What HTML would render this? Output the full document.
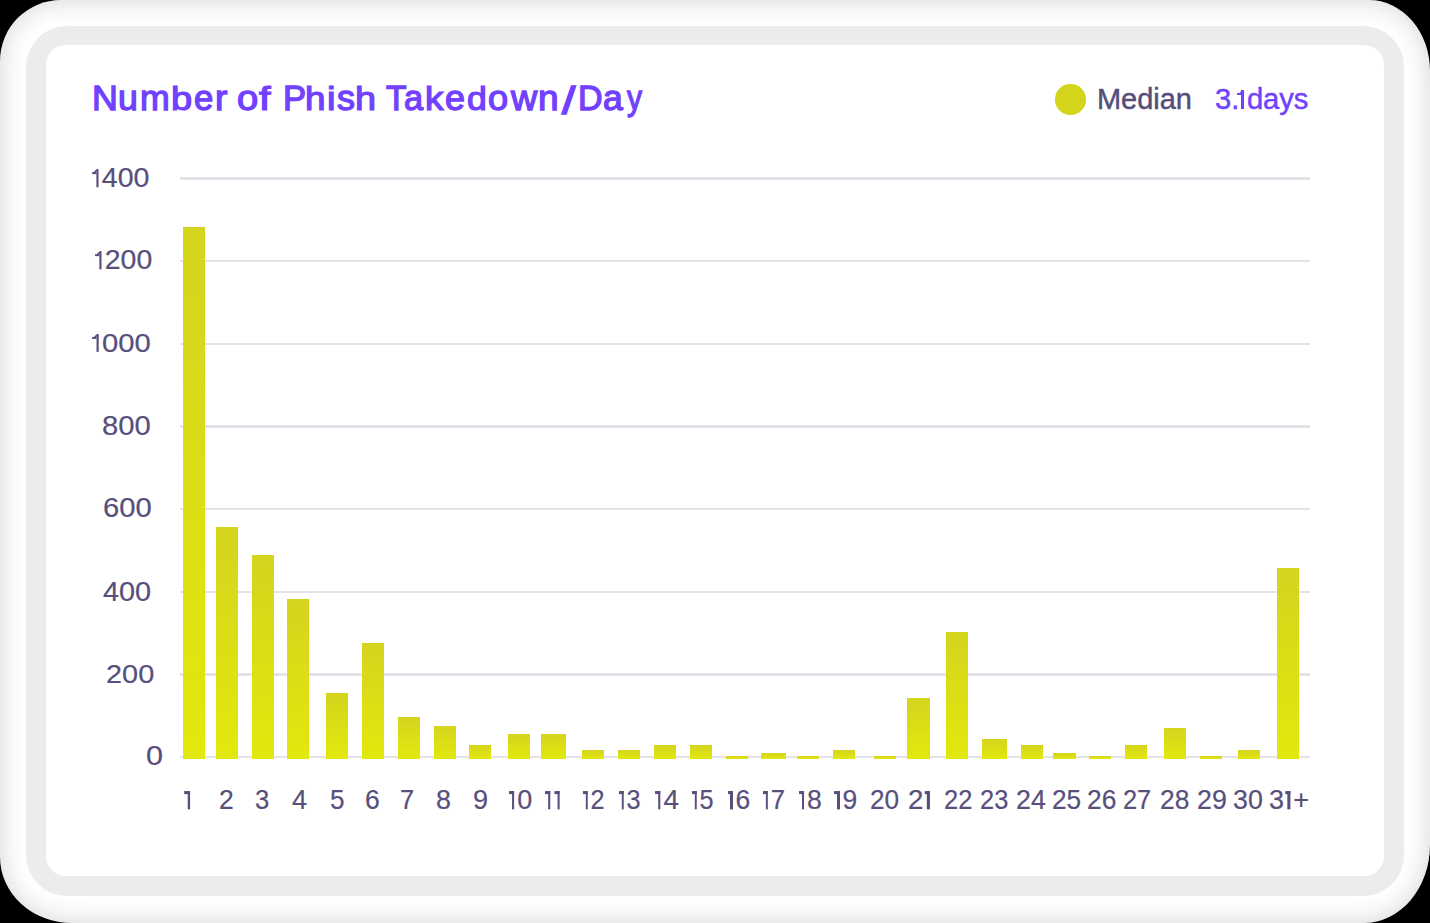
<!DOCTYPE html>
<html><head><meta charset="utf-8"><style>
html,body{margin:0;padding:0;}
body{width:1430px;height:923px;overflow:hidden;background:#000;position:relative;font-family:"Liberation Sans",sans-serif;}
.outer{position:absolute;left:0;top:0;width:1430px;height:923px;background:#fff;border-radius:61px 61px 66px 72px / 61px 71px 78px 66px;box-shadow:inset 0 0 26px 1px rgba(0,0,0,0.16);}
.frame{position:absolute;left:25.7px;top:25.8px;width:1378.1px;height:870.7px;background:#ececec;border-radius:41px;}
.card{position:absolute;left:45.8px;top:45.2px;width:1338px;height:831.1px;background:#fff;border-radius:20px;}
.title{position:absolute;top:80.3px;font-size:35px;-webkit-text-stroke:1.3px #7141fd;color:#7141fd;white-space:nowrap;line-height:1;transform-origin:0 29.6px;}
.dot{position:absolute;left:1055.3px;top:84.3px;width:30.4px;height:30.4px;border-radius:50%;background:#d4d51b;}
.med{position:absolute;top:85px;font-size:29px;color:#564d78;-webkit-text-stroke:0.45px #564d78;line-height:1;white-space:nowrap;transform-origin:0 0;}
.days{position:absolute;top:85px;font-size:29px;color:#7141fd;-webkit-text-stroke:0.45px #7141fd;line-height:1;white-space:nowrap;transform-origin:0 0;}
.one{position:absolute;background:#7141fd;}
.grid{position:absolute;left:179.8px;width:1130.2px;height:2.5px;background:#e5e3ea;}
.lab{position:absolute;font-size:26.5px;color:#584f7c;-webkit-text-stroke:0.2px #584f7c;line-height:1;white-space:nowrap;transform-origin:0 0;}
.bar{position:absolute;background:linear-gradient(to bottom,#d4d41e,#e3e80c);}
</style></head><body>
<div class="outer"></div>
<div class="frame"></div>
<div class="card"></div>
<div class="dot"></div>
<div class="title" style="left:92.15px;transform:scale(1.0238,1)">N</div>
<div class="title" style="left:118.36px;transform:scale(1.0187,1)">u</div>
<div class="title" style="left:140.26px;transform:scale(1.0192,1)">m</div>
<div class="title" style="left:171.42px;transform:scale(1.0882,0.944)">b</div>
<div class="title" style="left:194.41px;transform:scale(0.9944,1)">e</div>
<div class="title" style="left:214.58px;transform:scale(1.06,1)">r</div>
<div class="title" style="left:237.31px;transform:scale(1.0889,1)">o</div>
<div class="title" style="left:259.3px;transform:scale(1.1818,0.944)">f</div>
<div class="title" style="left:282.62px;transform:scale(0.99,1)">P</div>
<div class="title" style="left:305.1px;transform:scale(1.05,0.944)">h</div>
<div class="title" style="left:327.2px;transform:scale(1.1,0.944)">i</div>
<div class="title" style="left:336.9px;transform:scale(1.0294,1)">s</div>
<div class="title" style="left:355.44px;transform:scale(1.0812,0.944)">h</div>
<div class="title" style="left:385.8px;transform:scale(0.9619,1)">T</div>
<div class="title" style="left:404.22px;transform:scale(0.9842,1)">a</div>
<div class="title" style="left:424.89px;transform:scale(1.0529,0.944)">k</div>
<div class="title" style="left:444.97px;transform:scale(1.0278,1)">e</div>
<div class="title" style="left:467.38px;transform:scale(1.0176,0.944)">d</div>
<div class="title" style="left:487.97px;transform:scale(1.0333,1)">o</div>
<div class="title" style="left:510.84px;transform:scale(1.037,1)">w</div>
<div class="title" style="left:537.99px;transform:scale(1.0562,1)">n</div>
<div class="title" style="left:561.97px;margin-top:3.4px;transform:scale(1.3727,1.12)">/</div>
<div class="title" style="left:577.55px;transform:scale(0.9727,1)">D</div>
<div class="title" style="left:602.78px;transform:scale(1.0158,1)">a</div>
<div class="title" style="left:626.56px;transform:scale(0.8579,1)">y</div>
<div class="med" style="left:1096.9px;letter-spacing:-0.02px;transform:scaleX(0.9989)">Median</div>
<div class="days" style="left:1214.8px;letter-spacing:0.1px;transform:scaleX(1.0048)">3.</div>
<div class="days" style="left:1246.99px;letter-spacing:-0.167px;transform:scaleX(1.0085)">days</div>
<div class="one" style="left:1241.1px;top:89.6px;width:2.9px;height:19.7px"></div>
<div class="one" style="left:1237px;top:93px;width:5px;height:2.3px"></div>
<div class="one" style="left:1240.3px;top:90.6px;width:2.5px;height:3px;transform:skewX(-35deg)"></div>
<div class="grid" style="top:755.95px"></div>
<div class="grid" style="top:673.28px"></div>
<div class="grid" style="top:590.61px"></div>
<div class="grid" style="top:507.94px"></div>
<div class="grid" style="top:425.27px"></div>
<div class="grid" style="top:342.60px"></div>
<div class="grid" style="top:259.93px"></div>
<div class="grid" style="top:177.26px"></div>
<div class="lab" style="left:90.92px;top:164.76px;transform:scale(1.0774,1.0111)"><span style="display:inline-block;position:relative;width:10.0px;height:18.2px"><span style="position:absolute;left:0.8px;top:3.0px;width:4.6px;height:2.1px;background:currentColor"></span><span style="position:absolute;left:3.40px;top:0.9px;width:2.4px;height:3.2px;background:currentColor;transform:skewX(-40deg)"></span><span style="position:absolute;left:4.6px;top:0;width:2.5px;height:18.2px;background:currentColor"></span></span>400</div>
<div class="lab" style="left:94.03px;top:246.93px;transform:scale(1.0736,1.0167)"><span style="display:inline-block;position:relative;width:10.0px;height:18.2px"><span style="position:absolute;left:0.8px;top:3.0px;width:4.6px;height:2.1px;background:currentColor"></span><span style="position:absolute;left:3.40px;top:0.9px;width:2.4px;height:3.2px;background:currentColor;transform:skewX(-40deg)"></span><span style="position:absolute;left:4.6px;top:0;width:2.5px;height:18.2px;background:currentColor"></span></span>200</div>
<div class="lab" style="left:91.30px;top:330.32px;transform:scale(1.1038,0.9944)"><span style="display:inline-block;position:relative;width:10.0px;height:18.2px"><span style="position:absolute;left:0.8px;top:3.0px;width:4.6px;height:2.1px;background:currentColor"></span><span style="position:absolute;left:3.40px;top:0.9px;width:2.4px;height:3.2px;background:currentColor;transform:skewX(-40deg)"></span><span style="position:absolute;left:4.6px;top:0;width:2.5px;height:18.2px;background:currentColor"></span></span>000</div>
<div class="lab" style="left:102.30px;top:412.86px;transform:scale(1.1047,1.0111)">800</div>
<div class="lab" style="left:102.50px;top:495.46px;transform:scale(1.1023,1.0111)">600</div>
<div class="lab" style="left:103.10px;top:577.89px;transform:scale(1.0886,1.0278)">400</div>
<div class="lab" style="left:105.51px;top:660.98px;transform:scale(1.0907,1.0056)">200</div>
<div class="lab" style="left:146.45px;top:743.36px;transform:scale(1.1538,1.0111)">0</div>
<div class="lab" style="left:182.82px;top:786.93px;transform:scale(1.18,1.0167)"><span style="display:inline-block;position:relative;width:9.0px;height:18.2px"><span style="position:absolute;left:1.0px;top:0;width:5.2px;height:2.9px;background:currentColor"></span><span style="position:absolute;left:3.5px;top:0;width:2.7px;height:18.2px;background:currentColor"></span></span></div>
<div class="lab" style="left:218.90px;top:786.93px;transform:scale(1.0,1.0167)">2</div>
<div class="lab" style="left:254.63px;top:786.93px;transform:scale(0.9692,1.0167)">3</div>
<div class="lab" style="left:292.10px;top:786.93px;transform:scale(1.0214,1.0167)">4</div>
<div class="lab" style="left:329.52px;top:786.93px;transform:scale(0.9846,1.0167)">5</div>
<div class="lab" style="left:365.10px;top:786.93px;transform:scale(1.0,1.0167)">6</div>
<div class="lab" style="left:399.84px;top:786.93px;transform:scale(0.9615,1.0167)">7</div>
<div class="lab" style="left:436.48px;top:786.93px;transform:scale(1.0154,1.0167)">8</div>
<div class="lab" style="left:472.58px;top:786.93px;transform:scale(1.0231,1.0167)">9</div>
<div class="lab" style="left:508.28px;top:786.93px;transform:scale(1.0182,1.0167)"><span style="display:inline-block;position:relative;width:9.0px;height:18.2px"><span style="position:absolute;left:1.0px;top:0;width:5.2px;height:2.9px;background:currentColor"></span><span style="position:absolute;left:3.5px;top:0;width:2.7px;height:18.2px;background:currentColor"></span></span>0</div>
<div class="lab" style="left:543.96px;top:786.93px;transform:scale(1.0429,1.0167)"><span style="display:inline-block;position:relative;width:9.0px;height:18.2px"><span style="position:absolute;left:1.0px;top:0;width:5.2px;height:2.9px;background:currentColor"></span><span style="position:absolute;left:3.5px;top:0;width:2.7px;height:18.2px;background:currentColor"></span></span><span style="display:inline-block;position:relative;width:9.0px;height:18.2px"><span style="position:absolute;left:1.0px;top:0;width:5.2px;height:2.9px;background:currentColor"></span><span style="position:absolute;left:3.5px;top:0;width:2.7px;height:18.2px;background:currentColor"></span></span></div>
<div class="lab" style="left:582.35px;top:786.93px;transform:scale(0.9545,1.0167)"><span style="display:inline-block;position:relative;width:9.0px;height:18.2px"><span style="position:absolute;left:1.0px;top:0;width:5.2px;height:2.9px;background:currentColor"></span><span style="position:absolute;left:3.5px;top:0;width:2.7px;height:18.2px;background:currentColor"></span></span>2</div>
<div class="lab" style="left:618.45px;top:786.93px;transform:scale(0.9545,1.0167)"><span style="display:inline-block;position:relative;width:9.0px;height:18.2px"><span style="position:absolute;left:1.0px;top:0;width:5.2px;height:2.9px;background:currentColor"></span><span style="position:absolute;left:3.5px;top:0;width:2.7px;height:18.2px;background:currentColor"></span></span>3</div>
<div class="lab" style="left:654.05px;top:786.93px;transform:scale(1.05,1.0167)"><span style="display:inline-block;position:relative;width:9.0px;height:18.2px"><span style="position:absolute;left:1.0px;top:0;width:5.2px;height:2.9px;background:currentColor"></span><span style="position:absolute;left:3.5px;top:0;width:2.7px;height:18.2px;background:currentColor"></span></span>4</div>
<div class="lab" style="left:690.85px;top:786.93px;transform:scale(0.9545,1.0167)"><span style="display:inline-block;position:relative;width:9.0px;height:18.2px"><span style="position:absolute;left:1.0px;top:0;width:5.2px;height:2.9px;background:currentColor"></span><span style="position:absolute;left:3.5px;top:0;width:2.7px;height:18.2px;background:currentColor"></span></span>5</div>
<div class="lab" style="left:726.50px;top:786.93px;transform:scale(1.0,1.0167)"><span style="display:inline-block;position:relative;width:9.0px;height:18.2px"><span style="position:absolute;left:1.0px;top:0;width:5.2px;height:2.9px;background:currentColor"></span><span style="position:absolute;left:3.5px;top:0;width:2.7px;height:18.2px;background:currentColor"></span></span>6</div>
<div class="lab" style="left:761.73px;top:786.93px;transform:scale(0.9682,1.0167)"><span style="display:inline-block;position:relative;width:9.0px;height:18.2px"><span style="position:absolute;left:1.0px;top:0;width:5.2px;height:2.9px;background:currentColor"></span><span style="position:absolute;left:3.5px;top:0;width:2.7px;height:18.2px;background:currentColor"></span></span>7</div>
<div class="lab" style="left:797.70px;top:786.93px;transform:scale(1.0045,1.0167)"><span style="display:inline-block;position:relative;width:9.0px;height:18.2px"><span style="position:absolute;left:1.0px;top:0;width:5.2px;height:2.9px;background:currentColor"></span><span style="position:absolute;left:3.5px;top:0;width:2.7px;height:18.2px;background:currentColor"></span></span>8</div>
<div class="lab" style="left:833.40px;top:786.93px;transform:scale(1.0,1.0167)"><span style="display:inline-block;position:relative;width:9.0px;height:18.2px"><span style="position:absolute;left:1.0px;top:0;width:5.2px;height:2.9px;background:currentColor"></span><span style="position:absolute;left:3.5px;top:0;width:2.7px;height:18.2px;background:currentColor"></span></span>9</div>
<div class="lab" style="left:870.11px;top:786.93px;transform:scale(0.9893,1.0167)">20</div>
<div class="lab" style="left:907.86px;top:786.93px;transform:scale(1.045,1.0167)">2<span style="display:inline-block;position:relative;width:9.0px;height:18.2px"><span style="position:absolute;left:1.0px;top:0;width:5.2px;height:2.9px;background:currentColor"></span><span style="position:absolute;left:3.5px;top:0;width:2.7px;height:18.2px;background:currentColor"></span></span></div>
<div class="lab" style="left:943.54px;top:786.93px;transform:scale(0.9607,1.0167)">22</div>
<div class="lab" style="left:979.64px;top:786.93px;transform:scale(0.9607,1.0167)">23</div>
<div class="lab" style="left:1016.49px;top:786.93px;transform:scale(1.0107,1.0167)">24</div>
<div class="lab" style="left:1051.51px;top:786.93px;transform:scale(0.9893,1.0167)">25</div>
<div class="lab" style="left:1087.20px;top:786.93px;transform:scale(0.9964,1.0167)">26</div>
<div class="lab" style="left:1123.34px;top:786.93px;transform:scale(0.9571,1.0167)">27</div>
<div class="lab" style="left:1159.60px;top:786.93px;transform:scale(0.9964,1.0167)">28</div>
<div class="lab" style="left:1197.29px;top:786.93px;transform:scale(1.0107,1.0167)">29</div>
<div class="lab" style="left:1233.39px;top:786.93px;transform:scale(1.0107,1.0167)">30</div>
<div class="lab" style="left:1268.98px;top:786.93px;transform:scale(1.0189,1.0167)">3<span style="display:inline-block;position:relative;width:9.0px;height:18.2px"><span style="position:absolute;left:1.0px;top:0;width:5.2px;height:2.9px;background:currentColor"></span><span style="position:absolute;left:3.5px;top:0;width:2.7px;height:18.2px;background:currentColor"></span></span>+</div>
<div class="bar" style="left:183.0px;top:226.9px;width:21.8px;height:531.8px"></div>
<div class="bar" style="left:215.7px;top:526.9px;width:22.2px;height:231.8px"></div>
<div class="bar" style="left:251.5px;top:554.8px;width:22.1px;height:203.9px"></div>
<div class="bar" style="left:287.4px;top:598.9px;width:21.9px;height:159.8px"></div>
<div class="bar" style="left:325.9px;top:692.5px;width:22.0px;height:66.2px"></div>
<div class="bar" style="left:361.8px;top:642.9px;width:22.0px;height:115.8px"></div>
<div class="bar" style="left:397.6px;top:716.9px;width:22.0px;height:41.8px"></div>
<div class="bar" style="left:433.5px;top:725.7px;width:22.0px;height:33.0px"></div>
<div class="bar" style="left:469.0px;top:745.0px;width:22.3px;height:13.7px"></div>
<div class="bar" style="left:508.0px;top:733.8px;width:21.9px;height:24.9px"></div>
<div class="bar" style="left:541.0px;top:733.8px;width:24.7px;height:24.9px"></div>
<div class="bar" style="left:582.1px;top:750.2px;width:22.0px;height:8.5px"></div>
<div class="bar" style="left:618.0px;top:750.2px;width:22.0px;height:8.5px"></div>
<div class="bar" style="left:653.8px;top:745.0px;width:22.1px;height:13.7px"></div>
<div class="bar" style="left:689.7px;top:745.0px;width:22.0px;height:13.7px"></div>
<div class="bar" style="left:725.6px;top:755.9px;width:22.1px;height:2.8px"></div>
<div class="bar" style="left:761.2px;top:752.9px;width:25.0px;height:5.8px"></div>
<div class="bar" style="left:797.1px;top:755.9px;width:22.0px;height:2.8px"></div>
<div class="bar" style="left:832.9px;top:750.2px;width:22.1px;height:8.5px"></div>
<div class="bar" style="left:874.3px;top:755.9px;width:22.0px;height:2.8px"></div>
<div class="bar" style="left:907.3px;top:697.9px;width:22.4px;height:60.8px"></div>
<div class="bar" style="left:946.1px;top:631.7px;width:21.9px;height:127.0px"></div>
<div class="bar" style="left:981.9px;top:739.3px;width:24.7px;height:19.4px"></div>
<div class="bar" style="left:1020.5px;top:745.0px;width:22.0px;height:13.7px"></div>
<div class="bar" style="left:1053.4px;top:752.9px;width:22.3px;height:5.8px"></div>
<div class="bar" style="left:1089.1px;top:755.9px;width:22.2px;height:2.8px"></div>
<div class="bar" style="left:1125.0px;top:745.0px;width:22.0px;height:13.7px"></div>
<div class="bar" style="left:1163.8px;top:728.2px;width:22.0px;height:30.5px"></div>
<div class="bar" style="left:1199.6px;top:755.9px;width:22.1px;height:2.8px"></div>
<div class="bar" style="left:1238.0px;top:750.2px;width:22.0px;height:8.5px"></div>
<div class="bar" style="left:1276.7px;top:568.4px;width:22.2px;height:190.3px"></div>
</body></html>
